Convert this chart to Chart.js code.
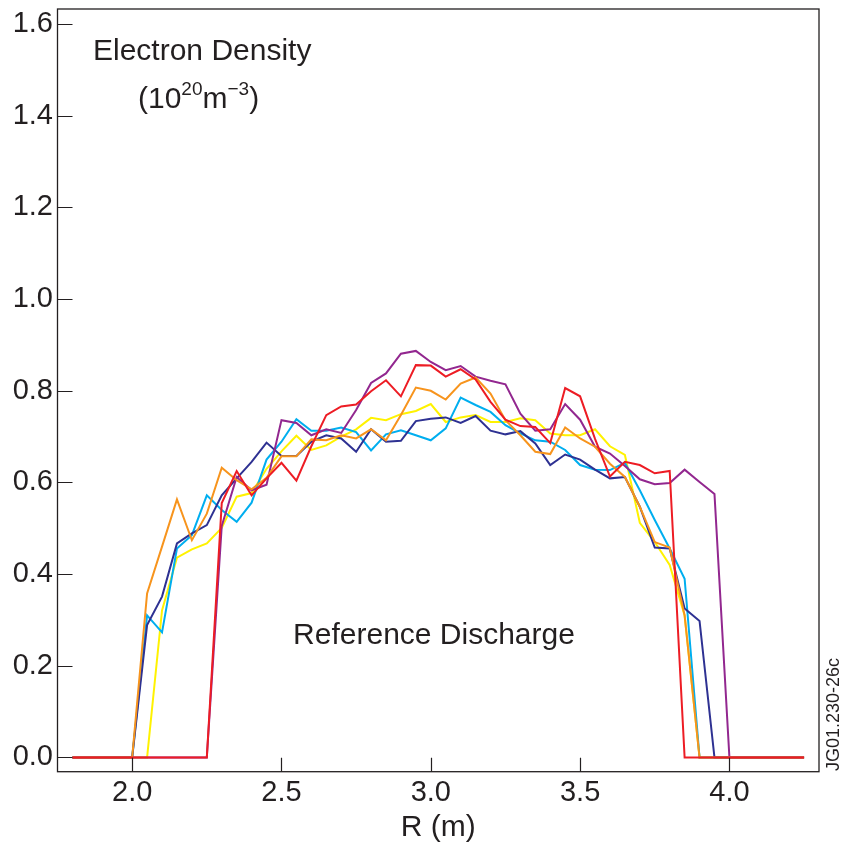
<!DOCTYPE html>
<html>
<head>
<meta charset="utf-8">
<script src="https://cdn.jsdelivr.net/npm/chart.js@4.4.1/dist/chart.umd.min.js"></script>
<style>
  html, body { margin: 0; padding: 0; background: #fff; }
  canvas { display: block; }
</style>
</head>
<body>
<canvas id="density" width="841" height="843"></canvas>
<script>
// major radius sample points (m)
const radius = [1.80, 1.85, 1.90, 1.95, 2.00, 2.05, 2.10, 2.15, 2.20, 2.25,
                2.30, 2.35, 2.40, 2.45, 2.50, 2.55, 2.60, 2.65, 2.70, 2.75,
                2.80, 2.85, 2.90, 2.95, 3.00, 3.05, 3.10, 3.15, 3.20, 3.25,
                3.30, 3.35, 3.40, 3.45, 3.50, 3.55, 3.60, 3.65, 3.70, 3.75,
                3.80, 3.85, 3.90, 3.95, 4.00, 4.05, 4.10, 4.15, 4.20, 4.25];

// electron density profiles (10^20 m^-3)
const navyVals = [0, 0, 0, 0, 0, .289, .351, .467, .489, .507,
                  .572, .609, .645, .687, .658, .658, .689, .703, .696, .667,
                  .716, .689, .691, .734, .739, .742, .730, .745, .713, .705,
                  .712, .685, .638, .661, .650, .628, .609, .612, .547, .458,
                  .456, .325, .298, 0, 0, 0, 0, 0, 0, 0];
const cyanVals = [0, 0, 0, 0, 0, .310, .273, .456, .485, .572,
                  .540, .514, .556, .650, .689, .738, .713, .713, .720, .710,
                  .670, .705, .714, .703, .692, .718, .785, .769, .754, .725,
                  .707, .692, .689, .671, .638, .628, .627, .643, .583, .518,
                  .456, .390, 0, 0, 0, 0, 0, 0, 0, 0];
const yellowVals = [0, 0, 0, 0, 0, 0, .321, .436, .454, .467,
                    .501, .569, .577, .630, .668, .702, .671, .681, .700, .716,
                    .741, .736, .749, .756, .771, .732, .742, .747, .732, .732,
                    .740, .736, .707, .703, .703, .716, .679, .660, .512, .470,
                    .420, .310, 0, 0, 0, 0, 0, 0, 0, 0];
const orangeVals = [0, 0, 0, 0, 0, .358, .460, .563, .474, .532,
                    .632, .605, .585, .610, .657, .657, .694, .692, .703, .696,
                    .716, .692, .747, .807, .800, .781, .816, .829, .794, .736,
                    .703, .667, .662, .720, .696, .678, .641, .612, .547, .470,
                    .458, .310, 0, 0, 0, 0, 0, 0, 0, 0];
const purpleVals = [0, 0, 0, 0, 0, 0, 0, 0, 0, 0,
                    .505, .612, .583, .595, .736, .730, .703, .716, .708, .758,
                    .817, .838, .881, .887, .863, .845, .854, .831, .822, .814,
                    .750, .713, .716, .771, .737, .678, .663, .636, .607, .596,
                    .599, .628, .601, .575, 0, 0, 0, 0, 0, 0];
const redVals = [0, 0, 0, 0, 0, 0, 0, 0, 0, 0,
                 .555, .625, .572, .609, .643, .604, .679, .747, .766, .770,
                 .799, .823, .788, .856, .855, .831, .847, .825, .776, .737,
                 .723, .721, .686, .806, .788, .695, .613, .645, .638, .620,
                 .625, 0, 0, 0, 0, 0, 0, 0, 0, 0];

const xTicks = [2.0, 2.5, 3.0, 3.5, 4.0];
const yTicks = [0.0, 0.2, 0.4, 0.6, 0.8, 1.0, 1.2, 1.4, 1.6];

const inkColor = '#231f20';
const family = '"Liberation Sans", Arial, Helvetica, sans-serif';

// first entry is drawn on top
const series = [
  { name: 'red', vals: redVals, color: '#ed1c24' },
  { name: 'orange', vals: orangeVals, color: '#f7941d' },
  { name: 'purple', vals: purpleVals, color: '#92278f' },
  { name: 'navy', vals: navyVals, color: '#2e3192' },
  { name: 'cyan', vals: cyanVals, color: '#00aeef' },
  { name: 'yellow', vals: yellowVals, color: '#fff200' }
];

// box, inward ticks and the free text of the figure
const frameAndNotes = {
  id: 'frameAndNotes',
  afterDraw(chart) {
    const { ctx, chartArea: a, scales } = chart;
    ctx.save();
    ctx.strokeStyle = inkColor;
    ctx.lineWidth = 1.3;
    ctx.strokeRect(a.left, a.top, a.right - a.left, a.bottom - a.top);

    ctx.beginPath();
    ctx.lineWidth = 1.2;
    xTicks.forEach(v => {
      const px = Math.round(scales.x.getPixelForValue(v)) + 0.5;
      ctx.moveTo(px, a.bottom);
      ctx.lineTo(px, a.bottom - 14);
    });
    yTicks.forEach(v => {
      const py = Math.round(scales.y.getPixelForValue(v)) + 0.5;
      ctx.moveTo(a.left, py);
      ctx.lineTo(a.left + 15, py);
    });
    ctx.stroke();

    ctx.fillStyle = inkColor;
    ctx.textBaseline = 'alphabetic';
    ctx.textAlign = 'left';
    ctx.font = '30px ' + family;
    ctx.fillText('Electron Density', 93, 59.5);

    // (10^20 m^-3)
    let x = 138;
    const parts = [['(', 30, 107.5], ['10', 30, 107.5], ['20', 19, 95], ['m', 30, 107.5],
                   ['\u22123', 19, 95], [')', 30, 107.5]];
    parts.forEach(([t, size, base]) => {
      ctx.font = size + 'px ' + family;
      ctx.fillText(t, x, base);
      x += ctx.measureText(t).width;
    });

    ctx.font = '30px ' + family;
    ctx.textAlign = 'center';
    ctx.fillText('Reference Discharge', 434, 643.5);

    ctx.translate(839, 771);
    ctx.rotate(-Math.PI / 2);
    ctx.textAlign = 'left';
    ctx.font = '18px ' + family;
    ctx.fillText('JG01.230-26c', 0, 0);
    ctx.restore();
  }
};

new Chart(document.getElementById('density'), {
  type: 'line',
  data: {
    datasets: series.map(s => ({
      label: s.name,
      data: radius.map((r, i) => ({ x: r, y: s.vals[i] })),
      borderColor: s.color,
      backgroundColor: s.color,
      borderWidth: 2,
      pointRadius: 0,
      tension: 0,
      fill: false
    }))
  },
  options: {
    responsive: false,
    animation: false,
    devicePixelRatio: 1,
    layout: { padding: { top: 9, right: 22, left: 0, bottom: 0 } },
    plugins: { legend: { display: false }, tooltip: { enabled: false } },
    scales: {
      x: {
        type: 'linear',
        min: 1.75,
        max: 4.3,
        grid: { display: false, drawTicks: false },
        border: { display: false },
        afterBuildTicks: s => { s.ticks = xTicks.map(v => ({ value: v })); },
        afterFit: s => { s.height = 71.3; s.paddingLeft = 0; s.paddingRight = 0; },
        ticks: {
          autoSkip: false,
          maxRotation: 0,
          padding: 4,
          color: inkColor,
          font: { family: family, size: 29 },
          callback: v => Number(v).toFixed(1)
        },
        title: {
          display: true,
          text: 'R (m)',
          color: inkColor,
          font: { family: family, size: 30, lineHeight: 1 },
          padding: 0
        }
      },
      y: {
        type: 'linear',
        min: -0.031,
        max: 1.633,
        grid: { display: false, drawTicks: false },
        border: { display: false },
        afterBuildTicks: s => { s.ticks = yTicks.map(v => ({ value: v })); },
        afterFit: s => { s.width = 57.5; s.paddingTop = 0; s.paddingBottom = 0; },
        ticks: {
          autoSkip: false,
          padding: 4.5,
          color: inkColor,
          font: { family: family, size: 29 },
          callback: v => Number(v).toFixed(1)
        }
      }
    }
  },
  plugins: [frameAndNotes]
});
</script>
</body>
</html>
